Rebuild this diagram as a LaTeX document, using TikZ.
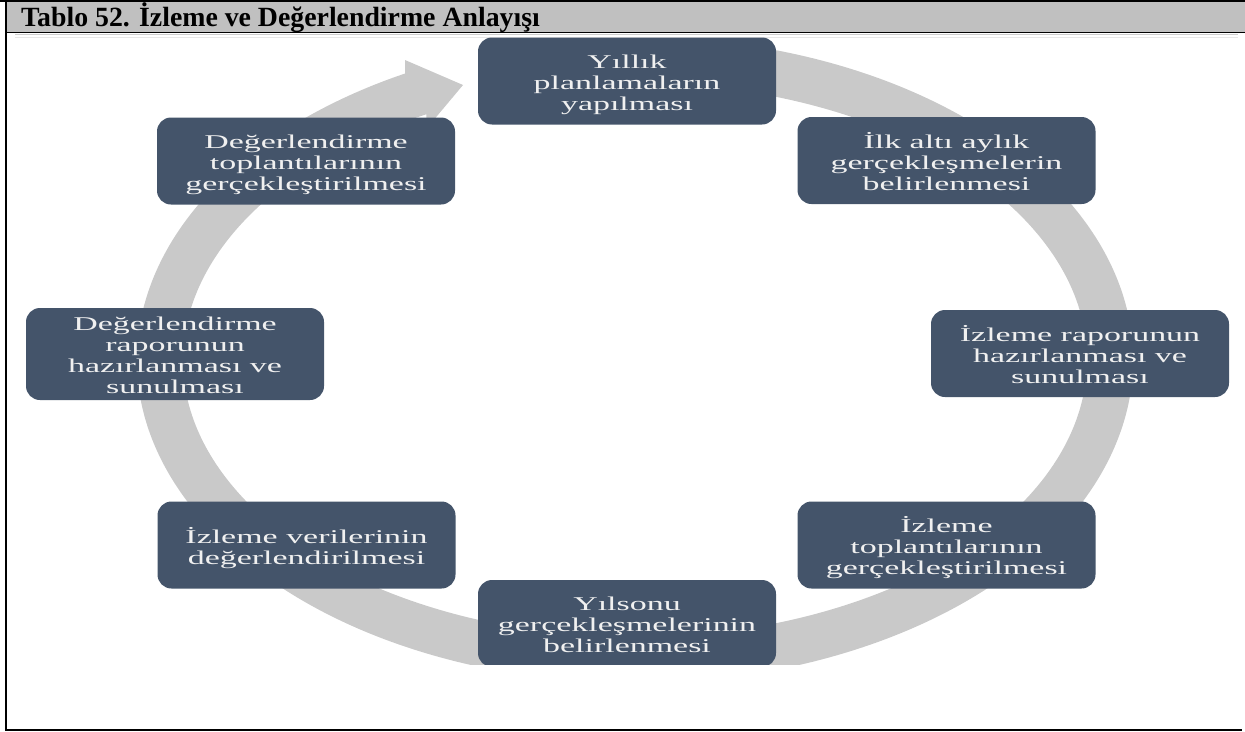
\documentclass[tikz,border=0pt]{standalone}
\usepackage{fontspec}
\setmainfont{Liberation Serif}
\definecolor{boxfill}{HTML}{44546A}
\definecolor{ringgray}{HTML}{C9C9C9}
\definecolor{headgray}{HTML}{C0C0C0}
\definecolor{boxtext}{HTML}{F0F0F0}
\newcommand\bx[1]{\raisebox{0pt}[\dimexpr\height+8pt\relax][\depth]{\scalebox{1.74}[1]{\fontsize{19.5}{21}\selectfont\begin{tabular}{@{}c@{}}#1\end{tabular}}}}
\begin{document}
\begin{tikzpicture}[x=1pt,y=-1pt,
  box/.style={fill=boxfill, rounded corners=14pt, minimum width=298pt, minimum height=87pt, inner sep=0pt, text=boxtext}]
\useasboundingbox (0,0) rectangle (1245,731);
% header
\fill[headgray] (6,1) rectangle (1245,32.5);
\draw[line width=2pt] (0,1) -- (1245,1);
\draw[line width=1.5pt] (6,32.5) -- (1245,32.5);
\draw[line width=2pt] (6,0) -- (6,731);
\draw[line width=1.5pt] (6,730) -- (1242,730);
\node[anchor=base west, font=\fontsize{27.8}{30}\selectfont\bfseries, inner sep=0pt] (title) at (21,26) {Tablo 52. İzleme ve Değerlendirme Anlayışı};
% faint image edge
\draw[gray!40, line width=1.2pt] (15,34.5) -- (1238,34.5);
\draw[gray!18, line width=1.5pt] (15,37.5) -- (1238,37.5);
\begin{scope}
\clip (10,36) rectangle (1240,664);
% circular arrow (clockwise)
\begin{scope}[shift={(635,360)}, yscale=-1]
\fill[ringgray] (75:498 and 323) arc[start angle=75, end angle=-242.5, x radius=498, y radius=323]
  -- (-230,300) -- (-172,275) -- (-208,232) -- (-242.5:452 and 277)
  arc[start angle=-242.5, end angle=75, x radius=452, y radius=277] -- cycle;
\end{scope}
\node[box] (n1) at (627,81) {\bx{Yıllık\\planlamaların\\yapılması}};
\node[box] (n2) at (946.5,160.5) {\bx{İlk altı aylık\\gerçekleşmelerin\\belirlenmesi}};
\node[box] (n3) at (1080,353.5) {\bx{İzleme raporunun\\hazırlanması ve\\sunulması}};
\node[box] (n4) at (946.5,545) {\bx{İzleme\\toplantılarının\\gerçekleştirilmesi}};
\node[box] (n5) at (627,623.5) {\bx{Yılsonu\\gerçekleşmelerinin\\belirlenmesi}};
\node[box] (n6) at (306.5,545) {\bx{İzleme verilerinin\\değerlendirilmesi}};
\node[box] (n7) at (175,354) {\bx{Değerlendirme\\raporunun\\hazırlanması ve\\sunulması}};
\node[box] (n8) at (306,161) {\bx{Değerlendirme\\toplantılarının\\gerçekleştirilmesi}};
\end{scope}
\end{tikzpicture}
\end{document}
